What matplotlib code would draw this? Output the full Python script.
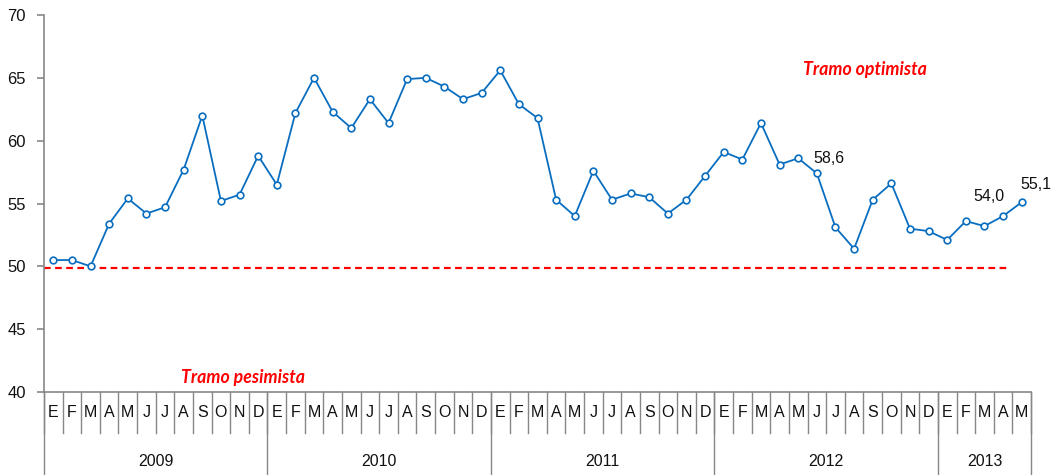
import matplotlib
matplotlib.use("Agg")
import matplotlib.pyplot as plt
import matplotlib.transforms as mtransforms

# monthly index values, Jan 2009 - May 2013
values_2009 = [50.5, 50.5, 50.0, 53.4, 55.4, 54.2, 54.7, 57.7, 62.0, 55.2, 55.7, 58.8]
values_2010 = [56.5, 62.2, 65.0, 62.3, 61.0, 63.3, 61.4, 64.9, 65.0, 64.3, 63.3, 63.8]
values_2011 = [65.6, 62.9, 61.8, 55.3, 54.0, 57.6, 55.3, 55.8, 55.5, 54.2, 55.3, 57.2]
values_2012 = [59.1, 58.5, 61.4, 58.1, 58.6, 57.4, 53.1, 51.4, 55.3, 56.6, 53.0, 52.8]
values_2013 = [52.1, 53.6, 53.2, 54.0, 55.1]

month_letters = ["E", "F", "M", "A", "M", "J", "J", "A", "S", "O", "N", "D"]
years = ["2009", "2010", "2011", "2012", "2013"]
months_per_year = [12, 12, 12, 12, 5]

threshold = 49.9
# labelled points: (index, text)
labels = [(40, "58,6"), (51, "54,0"), (52, "55,1")]

values = values_2009 + values_2010 + values_2011 + values_2012 + values_2013
x = list(range(len(values)))
n = len(values)

gray = "#878787"
blue = "#0A6EC0"

fig = plt.figure(figsize=(10.54, 4.75), dpi=100)
ax = fig.add_axes([44 / 1054, 83 / 475, 987 / 1054, 377 / 475])

ax.plot(x, values, color=blue, linewidth=1.3, marker="o", markersize=4.8,
        markerfacecolor="white", markeredgecolor=blue, markeredgewidth=1.2,
        zorder=3)

# dashed threshold line
ax.plot([-0.5, 51.3], [threshold, threshold], color="#FF0000",
        linewidth=1.6, dashes=(3, 2), zorder=2)

ax.set_xlim(-0.5, n - 0.5)
ax.set_ylim(40, 70)
ax.set_yticks(range(40, 71, 5))
ax.set_xticks([])
for side in ["top", "right", "bottom"]:
    ax.spines[side].set_visible(False)
ax.spines["left"].set_color(gray)
ax.spines["left"].set_linewidth(1.2)
ax.tick_params(axis="y", colors=gray, length=5, width=1.2, labelsize=12,
               labelcolor="#111111", pad=8)
for t in ax.get_yticklabels():
    t.set_fontfamily("Liberation Sans")

# category axis: month cells and year groups
trans = mtransforms.blended_transform_factory(ax.transData, ax.transAxes)
month_h = 41 / 377
year_h = 83 / 377
ax.plot([-0.5, n - 0.5], [0, 0], color=gray, linewidth=1.2, transform=trans,
        clip_on=False)
for i in range(n + 1):
    ax.plot([i - 0.5, i - 0.5], [0, -month_h], color=gray, linewidth=1.0,
            transform=trans, clip_on=False)
for i in range(n):
    ax.text(i, -month_h / 2, month_letters[i % 12], transform=trans,
            ha="center", va="center", fontsize=11.5, family="Liberation Sans",
            color="#111111")
start = 0
for yr, cnt in zip(years, months_per_year):
    ax.plot([start - 0.5, start - 0.5], [0, -year_h], color=gray,
            linewidth=1.0, transform=trans, clip_on=False)
    ax.text(start + cnt / 2 - 0.5, -70 / 377, yr, transform=trans,
            ha="center", va="center", fontsize=11.5, family="Liberation Sans",
            color="#111111")
    start += cnt
ax.plot([n - 0.5, n - 0.5], [0, -year_h], color=gray, linewidth=1.0,
        transform=trans, clip_on=False)

# data labels
offsets = {40: (15, 0, "left"), 51: (-14, 20, "center"), 52: (14, 18, "center")}
for idx, txt in labels:
    dx, dy, ha = offsets[idx]
    ax.annotate(txt, (idx, values[idx]), xytext=(dx, dy),
                textcoords="offset pixels", ha=ha, va="center",
                fontsize=11.5, family="Liberation Sans", color="#111111")

# zone labels
fig.text(865 / 1054, 1 - 70 / 475, "Tramo optimista", color="#FF0000",
         fontsize=12.8, fontweight="bold", fontstyle="italic", family="Lato",
         ha="center", va="center")
fig.text(243 / 1054, 1 - 378 / 475, "Tramo pesimista", color="#FF0000",
         fontsize=12.8, fontweight="bold", fontstyle="italic", family="Lato",
         ha="center", va="center")

fig.savefig("out.png", dpi=100)
